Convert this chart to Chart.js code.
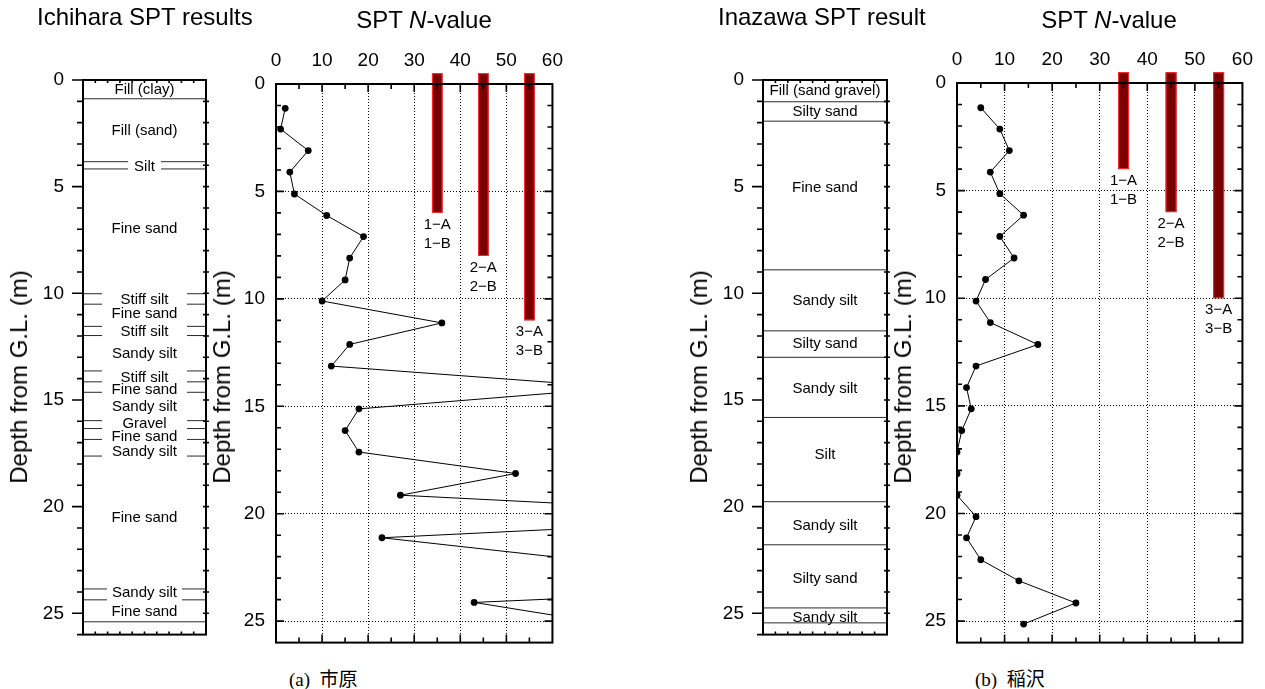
<!DOCTYPE html>
<html><head><meta charset="utf-8">
<script src="https://cdn.jsdelivr.net/npm/chart.js@4.4.1/dist/chart.umd.min.js"></script>
<style>
html,body{margin:0;padding:0;background:#fff;}
body{width:1265px;height:689px;overflow:hidden;position:relative;font-family:"Liberation Sans",Arial,Helvetica,sans-serif;color:#000;}
canvas{position:absolute;top:0;}
.t{position:absolute;white-space:nowrap;line-height:1;}
.ttl{font-size:24px;}
.ax{font-size:24px;transform:translate(-50%,-50%) rotate(-90deg);}
.cap{font-family:"Liberation Serif","Noto Sans CJK JP",serif;font-size:19px;}
</style></head><body>
<canvas id="cA" width="215" height="665" style="left:0px;width:215px;height:665px"></canvas>
<canvas id="cB" width="360" height="665" style="left:215px;width:360px;height:665px"></canvas>
<canvas id="cC" width="215" height="665" style="left:680px;width:215px;height:665px"></canvas>
<canvas id="cD" width="370" height="665" style="left:895px;width:370px;height:665px"></canvas>

<div class="t ttl" style="left:37px;top:5px">Ichihara SPT results</div>
<div class="t ttl" style="left:274px;top:8px;width:300px;text-align:center">SPT <i>N</i>-value</div>
<div class="t ttl" style="left:718px;top:5px">Inazawa SPT result</div>
<div class="t ttl" style="left:959px;top:8px;width:300px;text-align:center">SPT <i>N</i>-value</div>

<div class="t ax" style="left:19px;top:377px">Depth from G.L. (m)</div>
<div class="t ax" style="left:222px;top:377px">Depth from G.L. (m)</div>
<div class="t ax" style="left:699px;top:377px">Depth from G.L. (m)</div>
<div class="t ax" style="left:903px;top:377px">Depth from G.L. (m)</div>

<div class="t cap" style="left:289px;top:670px">(a)&nbsp;&nbsp;市原</div>
<div class="t cap" style="left:975px;top:670px">(b)&nbsp;&nbsp;稲沢</div>

<script>
// ---------------- data ----------------
const depthTickLabels = [0, 5, 10, 15, 20, 25];
const nTickLabels = [0, 10, 20, 30, 40, 50, 60];

// Ichihara SPT N-values (points beyond 60 run off the plot)
const ichiharaDepth = [1.13, 2.1, 3.1, 4.1, 5.12, 6.12, 7.1, 8.1, 9.12, 10.1, 11.12, 12.12, 13.13, 14.13, 15.12, 16.13, 17.13, 18.13, 19.14, 20.13, 21.12, 22.12, 23.12, 24.13, 25.13];
const ichiharaN = [2, 1, 7, 3, 4, 11, 19, 16, 15, 10, 36, 16, 12, 75, 18, 15, 18, 52, 27, 118, 23, 65, 150, 43, 72];

// Inazawa SPT N-values
const inazawaDepth = [1.15, 2.14, 3.14, 4.14, 5.14, 6.14, 7.13, 8.13, 9.13, 10.13, 11.13, 12.15, 13.15, 14.15, 15.14, 16.15, 17.15, 18.15, 19.15, 20.15, 21.13, 22.15, 23.13, 24.16, 25.14];
const inazawaN = [5, 9, 11, 7, 9, 14, 9, 12, 6, 4, 7, 17, 4, 2, 3, 1, 0, 0, 0, 4, 2, 5, 13, 25, 14];

// Pile/section bars
const sectionN = [35, 45, 55];
const sectionTopDepth = -0.5;
const ichiharaSectionBottom = [6, 8, 11];
const inazawaSectionBottom = [4, 6, 10];
const sectionLabels = [['1\u2212A', '1\u2212B'], ['2\u2212A', '2\u2212B'], ['3\u2212A', '3\u2212B']];

// Ichihara soil column
const ichiharaBoundaryDepth = [0.88, 3.83, 4.17, 10.02, 10.51, 11.55, 11.98, 13.64, 14.15, 14.64, 15.97, 16.34, 16.85, 17.63, 23.86, 24.37, 25.4];
const ichiharaBoundaryGap = [0, 1.34, 1.34, 3.45, 3.45, 3.45, 3.45, 3.45, 3.45, 3.45, 3.45, 3.45, 3.45, 3.45, 3.05, 3.05, 0];
const ichiharaLayerName = ['Fill (clay)', 'Fill (sand)', 'Silt', 'Fine sand', 'Stiff silt', 'Fine sand', 'Stiff silt', 'Sandy silt', 'Stiff silt', 'Fine sand', 'Sandy silt', 'Gravel', 'Fine sand', 'Sandy silt', 'Fine sand', 'Sandy silt', 'Fine sand'];
const ichiharaLayerDepth = [0.46, 2.37, 4.05, 6.96, 10.3, 10.98, 11.8, 12.83, 13.95, 14.53, 15.34, 16.13, 16.73, 17.43, 20.53, 24.04, 24.92];

// Inazawa soil column
const inazawaBoundaryDepth = [1.02, 1.93, 8.9, 11.76, 13.0, 15.82, 19.77, 21.79, 24.75, 25.45];
const inazawaBoundaryGap = [0, 0, 0, 0, 0, 0, 0, 0, 0, 0];
const inazawaLayerName = ['Fill (sand gravel)', 'Silty sand', 'Fine sand', 'Sandy silt', 'Silty sand', 'Sandy silt', 'Silt', 'Sandy silt', 'Silty sand', 'Sandy silt'];
const inazawaLayerDepth = [0.5, 1.48, 5.04, 10.37, 12.36, 14.49, 17.56, 20.9, 23.41, 25.2];

// ---------------- drawing ----------------
const FONT = '"Liberation Sans", Arial, Helvetica, sans-serif';
Chart.defaults.font.family = FONT;
Chart.defaults.color = '#000';
const TICK_FONT = {family: FONT, size: 19};
const SECTION_HALF = 1.15;

const sptDecor = {
  id: 'sptDecor',
  beforeDatasetsDraw(chart, args, opts) {
    const {ctx, scales: {x, y}} = chart;
    ctx.save();
    sectionN.forEach((n, i) => {
      const xc = x.getPixelForValue(n);
      const hw = x.getPixelForValue(n + SECTION_HALF) - xc;
      const yt = y.getPixelForValue(sectionTopDepth);
      const yb = y.getPixelForValue(opts.bottoms[i]);
      ctx.fillStyle = '#7a0000';
      ctx.fillRect(xc - hw, yt, 2 * hw, yb - yt);
      ctx.strokeStyle = '#ff2a2a';
      ctx.lineWidth = 1;
      ctx.strokeRect(xc - hw + 0.5, yt + 0.5, 2 * hw - 1, yb - yt - 1);
      ctx.fillStyle = '#000';
      ctx.font = '15px ' + FONT;
      ctx.textAlign = 'center';
      ctx.textBaseline = 'middle';
      ctx.fillText(sectionLabels[i][0], xc, yb + 12);
      ctx.fillText(sectionLabels[i][1], xc, yb + 31);
    });
    ctx.restore();
  },
  afterDraw(chart) {
    const {ctx, chartArea: a, scales: {x, y}} = chart;
    ctx.save();
    ctx.strokeStyle = '#000';
    ctx.lineWidth = 1.6;
    ctx.beginPath();
    for (let v = 5; v < 60; v += 5) {
      const px = x.getPixelForValue(v);
      const L = v % 10 === 0 ? 8 : 5;
      ctx.moveTo(px, a.top); ctx.lineTo(px, a.top + L);
      ctx.moveTo(px, a.bottom); ctx.lineTo(px, a.bottom - L);
    }
    for (let d = 1; d < 26; d++) {
      const py = y.getPixelForValue(d);
      const L = d % 5 === 0 ? 8 : 5;
      ctx.moveTo(a.left, py); ctx.lineTo(a.left + L, py);
      ctx.moveTo(a.right, py); ctx.lineTo(a.right - L, py);
    }
    ctx.stroke();
    ctx.lineWidth = 2;
    ctx.strokeRect(a.left, a.top, a.right - a.left, a.bottom - a.top);
    ctx.restore();
  }
};

const columnDecor = {
  id: 'columnDecor',
  afterDatasetsDraw(chart, args, opts) {
    const {ctx, scales: {x, y}} = chart;
    ctx.save();
    ctx.fillStyle = '#000';
    ctx.font = '15px ' + FONT;
    ctx.textAlign = 'center';
    ctx.textBaseline = 'middle';
    opts.names.forEach((name, i) => {
      ctx.fillText(name, x.getPixelForValue(5), y.getPixelForValue(opts.depths[i]));
    });
    ctx.restore();
  },
  afterDraw(chart) {
    const {ctx, chartArea: a, scales: {x, y}} = chart;
    ctx.save();
    ctx.strokeStyle = '#000';
    ctx.lineWidth = 1.6;
    ctx.beginPath();
    for (let d = 0; d <= 26; d++) {
      const py = y.getPixelForValue(d);
      const L = d % 5 === 0 && d <= 25 ? 11 : 6;
      ctx.moveTo(a.left, py); ctx.lineTo(a.left - L, py);
      if (d > 0 && d < 26) { ctx.moveTo(a.right - 3, py); ctx.lineTo(a.right + 3, py); }
    }
    for (let v = 1; v < 10; v++) {
      const px = x.getPixelForValue(v);
      ctx.moveTo(px, a.top); ctx.lineTo(px, a.top + 3);
      ctx.moveTo(px, a.bottom); ctx.lineTo(px, a.bottom - 3);
    }
    ctx.stroke();
    ctx.lineWidth = 2;
    ctx.strokeRect(a.left, a.top, a.right - a.left, a.bottom - a.top);
    ctx.restore();
  }
};

function depthAxis(width, pad, withGrid) {
  return {
    type: 'linear', position: 'left', reverse: true, min: 0, max: 26,
    afterFit(s) { s.width = width; },
    ticks: {
      stepSize: 1, autoSkip: false, padding: pad, font: TICK_FONT, color: '#000',
      callback: v => depthTickLabels.includes(v) ? String(v) : ''
    },
    grid: {
      display: withGrid, drawTicks: false, lineWidth: 1,
      color: c => (c.tick && c.tick.value % 5 === 0 && c.tick.value > 0 && c.tick.value < 26) ? '#000' : 'rgba(0,0,0,0)'
    },
    border: {display: false, dash: [1, 2]}
  };
}

function makeSPT(id, depth, N, bottoms, g) {
  return new Chart(document.getElementById(id), {
    type: 'line',
    data: {datasets: [{
      data: depth.map((d, i) => ({x: N[i], y: d})),
      borderColor: '#000', borderWidth: 1, tension: 0, fill: false,
      pointRadius: 3.4, pointBackgroundColor: '#000', pointBorderWidth: 0, pointHoverRadius: 3.4
    }]},
    options: {
      responsive: false, animation: false, devicePixelRatio: 1,
      layout: {padding: {left: 0, right: g.pr, top: 0, bottom: g.pb}},
      plugins: {legend: {display: false}, tooltip: {enabled: false}, sptDecor: {bottoms}},
      scales: {
        x: {
          type: 'linear', position: 'top', min: 0, max: 60,
          afterFit(s) { s.height = g.top; },
          ticks: {stepSize: 10, autoSkip: false, maxRotation: 0, padding: 12, font: TICK_FONT, color: '#000',
            callback: v => nTickLabels.includes(v) ? String(v) : ''},
          grid: {drawTicks: false, lineWidth: 1,
            color: c => (c.tick && c.tick.value > 0 && c.tick.value < 60) ? '#000' : 'rgba(0,0,0,0)'},
          border: {display: false, dash: [1, 2]}
        },
        y: depthAxis(g.yw, 11, true)
      }
    },
    plugins: [sptDecor]
  });
}

function makeColumn(id, bDepth, bGap, names, depths, g) {
  const sets = [];
  bDepth.forEach((d, i) => {
    const gp = bGap[i];
    const segs = gp > 0 ? [[0, 5 - gp], [5 + gp, 10]] : [[0, 10]];
    segs.forEach(s => sets.push({
      data: [{x: s[0], y: d}, {x: s[1], y: d}],
      borderColor: '#2a2a2a', borderWidth: 1, pointRadius: 0, fill: false, tension: 0
    }));
  });
  return new Chart(document.getElementById(id), {
    type: 'line',
    data: {datasets: sets},
    options: {
      responsive: false, animation: false, devicePixelRatio: 1,
      layout: {padding: {left: 0, right: g.pr, top: g.top, bottom: g.pb}},
      plugins: {legend: {display: false}, tooltip: {enabled: false}, columnDecor: {names, depths}},
      scales: {
        x: {type: 'linear', min: 0, max: 10, display: false},
        y: depthAxis(g.yw, 19, false)
      }
    },
    plugins: [columnDecor]
  });
}

makeColumn('cA', ichiharaBoundaryDepth, ichiharaBoundaryGap, ichiharaLayerName, ichiharaLayerDepth, {yw: 83, pr: 9, top: 80, pb: 23});
makeSPT('cB', ichiharaDepth, ichiharaN, ichiharaSectionBottom, {yw: 61, pr: 18, top: 84, pb: 21});
makeColumn('cC', inazawaBoundaryDepth, inazawaBoundaryGap, inazawaLayerName, inazawaLayerDepth, {yw: 83, pr: 8, top: 80, pb: 23});
makeSPT('cD', inazawaDepth, inazawaN, inazawaSectionBottom, {yw: 62, pr: 18, top: 83, pb: 21});
</script>
</body></html>
